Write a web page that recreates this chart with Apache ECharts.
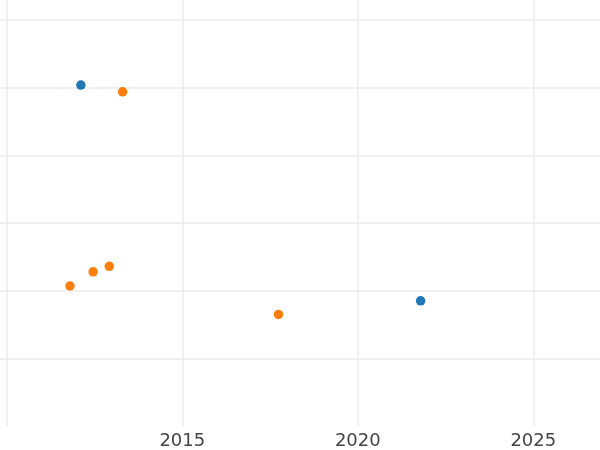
<!DOCTYPE html>
<html>
<head>
<meta charset="utf-8">
<script src="https://cdn.jsdelivr.net/npm/echarts@6/dist/echarts.min.js"></script>
<style>html,body{margin:0;padding:0;background:#fff}#c{width:600px;height:450px}</style>
</head>
<body>
<div id="c"></div>
<script>
// Series A (blue)
const blueX = [2012.11, 2021.79];
const blueY = [5.04, 1.85];
// Series B (orange)
const orangeX = [2013.30, 2011.80, 2012.46, 2012.92, 2017.74];
const orangeY = [4.94, 2.07, 2.28, 2.36, 1.65];
// Axis ticks
const xTicks = [2010, 2015, 2020, 2025];
const xTickLabels = ['', '2015', '2020', '2025'];
const yTicks = [1, 2, 3, 4, 5, 6];
const xRange = [2009.806, 2026.90];
const yRange = [0, 6.298];

const chart = echarts.init(document.getElementById('c'), null, {renderer: 'canvas'});
const pairs = (xs, ys) => xs.map((x, i) => [x, ys[i]]);
chart.setOption({
  animation: false,
  grid: {left: 0, right: 0, top: 0, bottom: 21, containLabel: false},
  xAxis: {
    type: 'value', min: xRange[0], max: xRange[1],
    axisLine: {show: false},
    axisTick: {show: false, customValues: xTicks},
    axisLabel: {
      customValues: xTicks,
      formatter: v => xTickLabels[xTicks.indexOf(Math.round(v))] || '',
      fontFamily: 'DejaVu Sans', fontSize: 18, color: '#444', margin: 6
    },
    splitLine: {show: true, lineStyle: {color: '#ebebeb', width: 1.5}}
  },
  yAxis: {
    type: 'value', min: yRange[0], max: yRange[1],
    axisLine: {show: false},
    axisTick: {show: false, customValues: yTicks},
    axisLabel: {show: false, customValues: yTicks},
    splitLine: {show: true, lineStyle: {color: '#ebebeb', width: 1.5}}
  },
  series: [
    {type: 'scatter', data: pairs(blueX, blueY), symbolSize: 9.5, itemStyle: {color: '#1f77b4', opacity: 1}},
    {type: 'scatter', data: pairs(orangeX, orangeY), symbolSize: 9.5, itemStyle: {color: '#ff7f0e', opacity: 1}}
  ]
});
</script>
</body>
</html>
